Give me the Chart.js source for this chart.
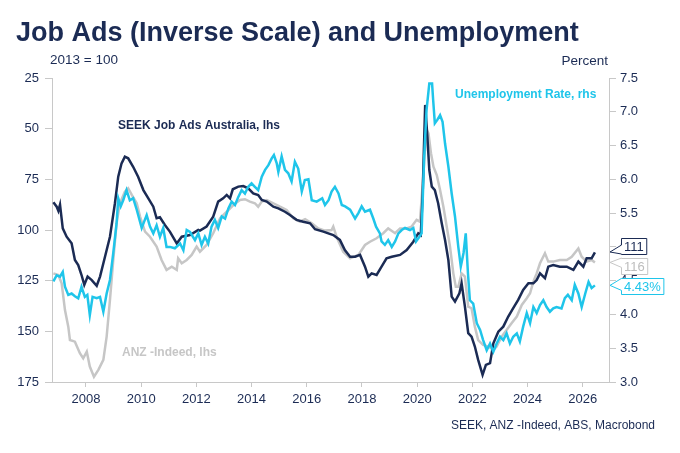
<!DOCTYPE html>
<html>
<head>
<meta charset="utf-8">
<script src="https://cdn.jsdelivr.net/npm/chart.js@4.4.1/dist/chart.umd.min.js"></script>
<style>
  html, body { margin: 0; padding: 0; background: #fff; }
  #wrap { width: 680px; height: 453px; }
</style>
</head>
<body>
<div id="wrap"><canvas id="jobChart" width="680" height="453"></canvas></div>
<script>
// dates are decimal years
var seekDates = [2006.82, 2006.94, 2007.00, 2007.06, 2007.16, 2007.30, 2007.48, 2007.60, 2007.72, 2007.84, 2007.94,
	2008.06, 2008.21, 2008.39, 2008.51, 2008.69, 2008.87, 2009.05, 2009.17, 2009.29, 2009.41, 2009.53, 2009.71, 2009.89,
	2010.08, 2010.26, 2010.44, 2010.56, 2010.68, 2010.86, 2011.04, 2011.29, 2011.47, 2011.77, 2012.07, 2012.13, 2012.37,
	2012.61, 2012.79, 2012.97, 2013.10, 2013.22, 2013.32, 2013.52, 2013.70, 2013.88, 2014.06, 2014.24, 2014.37, 2014.55,
	2014.79, 2014.97, 2015.21, 2015.39, 2015.63, 2015.87, 2016.12, 2016.30, 2016.60, 2016.96, 2017.20, 2017.38, 2017.57,
	2017.75, 2017.93, 2018.11, 2018.23, 2018.35, 2018.53, 2018.71, 2018.89, 2019.08, 2019.38, 2019.62, 2019.86, 2020.04,
	2020.13, 2020.20, 2020.25, 2020.29, 2020.37, 2020.44, 2020.53, 2020.64, 2020.76, 2020.89, 2021.01, 2021.13, 2021.25,
	2021.37, 2021.53, 2021.61, 2021.73, 2021.85, 2021.97, 2022.09, 2022.21, 2022.37, 2022.49, 2022.64, 2022.76, 2022.94,
	2023.12, 2023.30, 2023.48, 2023.66, 2023.84, 2024.03, 2024.21, 2024.33, 2024.45, 2024.63, 2024.75, 2024.93, 2025.17,
	2025.42, 2025.66, 2025.84, 2026.02, 2026.14, 2026.32, 2026.44];
var seekValues = [86.3, 88.5, 90.5, 87.5, 99.2, 103.3, 106.6, 114.8, 117.3, 122.2, 127.1,
	123, 124.7, 127.5, 123, 113.2, 103.3, 86.8, 73.7, 67.1, 63.8, 64.6, 68.8, 73.7,
	80.3, 84.4, 88.5, 94.2, 93.7, 97.5, 100.8, 106.6, 103.3, 102.5, 100, 100.3, 98.3,
	93.4, 86, 84.4, 82.7, 84.4, 79.9, 78.6, 78.3, 79.4, 81.9, 82.7, 85.2, 86,
	88.5, 89.3, 91, 92.6, 95, 95.9, 96.7, 99.6, 100.8, 102.5, 104.9, 109.9, 113.2,
	113.2, 112.3, 118.1, 123, 121.4, 122.2, 118.1, 114, 113.2, 112.3, 109.9, 105.8, 101.6,
	102.5, 81.9, 57.2, 38.3, 54, 70.4, 78.6, 80.3, 86.8, 96.7, 104.9, 114.8, 132.9,
	135.3, 131.2, 126.3, 137.8, 150.9, 152.6, 157.5, 164.1, 171.5, 166.6, 165.7, 155.9, 150.2,
	147.7, 142.7, 138.6, 134.5, 129.6, 126.3, 126.3, 124.7, 121.4, 123.8, 118.1, 117.3, 118.1,
	118.1, 119.7, 115.6, 118.1, 114, 114, 111];

var anzDates = [2006.82, 2007.00, 2007.12, 2007.24, 2007.36, 2007.42, 2007.60, 2007.78, 2007.90, 2008.03, 2008.14,
	2008.29, 2008.45, 2008.63, 2008.75, 2008.87, 2008.99, 2009.11, 2009.23, 2009.41, 2009.53, 2009.66, 2009.84, 2009.96,
	2010.14, 2010.32, 2010.56, 2010.74, 2010.92, 2011.11, 2011.29, 2011.34, 2011.47, 2011.65, 2011.83, 2012.01, 2012.13,
	2012.37, 2012.61, 2012.86, 2013.10, 2013.34, 2013.58, 2013.76, 2013.94, 2014.12, 2014.24, 2014.37, 2014.55, 2014.79,
	2015.03, 2015.27, 2015.51, 2015.75, 2015.94, 2016.18, 2016.42, 2016.66, 2016.90, 2016.96, 2017.08, 2017.32, 2017.57,
	2017.87, 2018.11, 2018.29, 2018.53, 2018.77, 2018.95, 2019.20, 2019.38, 2019.62, 2019.80, 2019.98, 2020.10, 2020.22,
	2020.33, 2020.41, 2020.50, 2020.59, 2020.71, 2020.83, 2020.95, 2021.07, 2021.19, 2021.31, 2021.40, 2021.49, 2021.61,
	2021.73, 2021.85, 2021.97, 2022.09, 2022.21, 2022.39, 2022.58, 2022.76, 2022.88, 2023.06, 2023.24, 2023.42, 2023.61,
	2023.79, 2023.97, 2024.09, 2024.21, 2024.33, 2024.45, 2024.63, 2024.75, 2024.93, 2025.17, 2025.42, 2025.60, 2025.84,
	2025.96, 2026.14, 2026.32, 2026.44];
var anzValues = [121.4, 122.2, 126.3, 139.5, 147.7, 154.3, 155.1, 160.8, 163.3, 160, 167.4,
	172.4, 169, 164.1, 152.6, 134.5, 114.8, 96.7, 86.8, 81.1, 79.4, 82.7, 86.8, 93.4,
	100.8, 103.3, 108.2, 114.8, 119.7, 118.1, 119.7, 114, 116.4, 114.8, 112.3, 108.2, 110.7,
	107.4, 101.6, 94.2, 91, 87.7, 85.2, 84.8, 86, 86.8, 88.5, 86, 85.2, 86.8,
	88.5, 90.1, 94.2, 95.9, 94.7, 96.7, 99.2, 100.3, 100, 98.3, 103.3, 110.7, 114,
	112.3, 107.4, 105.8, 104.1, 101.6, 99.2, 101.6, 99.2, 99.2, 98.3, 95, 95.9, 73.7,
	50, 52.3, 62.1, 68.8, 72.9, 80.3, 88.5, 98.3, 108.2, 121.4, 128, 128, 121.4,
	123, 137.8, 138.6, 147.7, 154.3, 156.7, 157.5, 159.2, 157.5, 152.6, 149.3, 146, 142.7,
	137, 133.7, 131.2, 125.5, 121.4, 116.4, 111.5, 115.6, 115.6, 114.8, 114.8, 113.2, 109.1,
	113.2, 115.6, 114.8, 116];

var unempDates = [2006.82, 2006.94, 2007.06, 2007.16, 2007.24, 2007.36, 2007.48, 2007.60, 2007.72, 2007.84, 2007.96,
	2008.05, 2008.14, 2008.24, 2008.39, 2008.51, 2008.63, 2008.75, 2008.87, 2008.99, 2009.11, 2009.17, 2009.26, 2009.35,
	2009.47, 2009.59, 2009.71, 2009.84, 2010.02, 2010.20, 2010.32, 2010.44, 2010.56, 2010.68, 2010.80, 2010.92, 2011.04,
	2011.22, 2011.41, 2011.53, 2011.65, 2011.77, 2011.95, 2012.07, 2012.19, 2012.31, 2012.43, 2012.55, 2012.67, 2012.79,
	2012.92, 2013.04, 2013.16, 2013.28, 2013.40, 2013.52, 2013.64, 2013.76, 2013.88, 2014.00, 2014.12, 2014.24, 2014.37,
	2014.49, 2014.61, 2014.73, 2014.81, 2014.91, 2014.97, 2015.09, 2015.21, 2015.33, 2015.45, 2015.57, 2015.69, 2015.82,
	2015.93, 2016.06, 2016.18, 2016.36, 2016.56, 2016.66, 2016.79, 2016.90, 2017.02, 2017.15, 2017.27, 2017.39, 2017.57,
	2017.75, 2017.87, 2017.99, 2018.11, 2018.29, 2018.41, 2018.51, 2018.65, 2018.71, 2018.83, 2018.95, 2019.08, 2019.20,
	2019.32, 2019.44, 2019.56, 2019.74, 2019.86, 2019.96, 2020.08, 2020.16, 2020.25, 2020.34, 2020.44, 2020.54, 2020.58,
	2020.64, 2020.73, 2020.83, 2020.92, 2021.01, 2021.13, 2021.25, 2021.37, 2021.49, 2021.58, 2021.68, 2021.76, 2021.84,
	2021.91, 2022.03, 2022.16, 2022.28, 2022.39, 2022.52, 2022.64, 2022.76, 2022.88, 2023.00, 2023.12, 2023.24, 2023.36,
	2023.48, 2023.61, 2023.72, 2023.84, 2023.97, 2024.09, 2024.21, 2024.33, 2024.45, 2024.57, 2024.69, 2024.81, 2024.93,
	2025.05, 2025.23, 2025.35, 2025.46, 2025.60, 2025.71, 2025.84, 2025.96, 2026.09, 2026.21, 2026.32, 2026.44];
var unempValues = [4.49, 4.58, 4.56, 4.63, 4.41, 4.29, 4.31, 4.27, 4.24, 4.41, 4.26,
	4.29, 3.99, 4.26, 4.24, 4.26, 4.04, 4.31, 4.51, 4.91, 5.35, 5.72, 5.6, 5.69,
	5.84, 5.69, 5.72, 5.55, 5.28, 5.47, 5.3, 5.2, 5.32, 5.15, 5.28, 5.0, 5.0,
	4.98, 5.05, 4.95, 5.25, 5.22, 5.1, 5.2, 5.03, 5.15, 5.05, 5.3, 5.4, 5.28,
	5.45, 5.42, 5.57, 5.67, 5.62, 5.74, 5.84, 5.79, 5.89, 5.94, 5.89, 5.84, 6.04,
	6.14, 6.21, 6.31, 6.36, 6.24, 6.11, 6.34, 6.14, 6.09, 5.97, 6.26, 6.16, 5.82,
	5.99, 6.0, 5.69, 5.67, 5.72, 5.62, 5.69, 5.82, 5.89, 5.79, 5.62, 5.6, 5.55,
	5.42, 5.5, 5.6, 5.52, 5.55, 5.42, 5.3, 5.2, 5.08, 5.03, 5.1, 5.0, 5.08,
	5.2, 5.25, 5.28, 5.25, 5.28, 5.08, 5.15, 5.2, 6.29, 7.03, 7.42, 7.42, 7.17,
	6.83, 6.88, 6.95, 6.85, 6.53, 6.19, 5.79, 5.45, 5.0, 4.71, 4.91, 5.2, 4.61,
	4.21, 4.16, 3.87, 3.77, 3.62, 3.47, 3.57, 3.45, 3.57, 3.67, 3.62, 3.72, 3.57,
	3.67, 3.72, 3.6, 3.82, 4.02, 3.87, 4.11, 4.02, 4.14, 4.21, 4.11, 4.04, 4.09,
	4.11, 4.09, 4.24, 4.29, 4.21, 4.44, 4.31, 4.11, 4.31, 4.48, 4.39, 4.43];

var xTicks = [2008, 2010, 2012, 2014, 2016, 2018, 2020, 2022, 2024, 2026];

var navy = '#1b2b54';
var cyan = '#1fc5ea';
var grey = '#c6c6c6';
var font = "'Liberation Sans', Arial, sans-serif";

function pts(dates, vals) {
	return dates.map(function(d, i) { return { x: d, y: vals[i] }; });
}

var textPlugin = {
	id: 'textPlugin',
	afterDraw: function(chart) {
		var c = chart.ctx;
		var area = chart.chartArea;
		c.save();
		c.textBaseline = 'alphabetic';
		c.textAlign = 'left';
		c.fillStyle = navy;
		c.font = 'bold 27px ' + font;
		c.fillText('Job Ads (Inverse Scale) and Unemployment', 16, 41);
		c.font = '13.5px ' + font;
		c.fillText('2013 = 100', 50, 64);
		c.textAlign = 'right';
		c.fillText('Percent', 608, 65);
		c.font = '12px ' + font;
		c.fillText('SEEK, ANZ -Indeed, ABS, Macrobond', 655, 429);

		c.textAlign = 'left';
		c.font = 'bold 12px ' + font;
		c.fillStyle = navy;
		c.fillText('SEEK Job Ads Australia, lhs', 118, 129);
		c.fillStyle = cyan;
		c.fillText('Unemployment Rate, rhs', 455, 98);
		c.fillStyle = grey;
		c.fillText('ANZ -Indeed, lhs', 122, 356);

		// end-value callouts, pushed apart when they overlap
		var items = chart.data.datasets.map(function(ds) {
			var last = ds.data[ds.data.length - 1];
			var y = chart.scales[ds.yAxisID].getPixelForValue(last.y);
			return { y: y, ly: y, text: ds.endFormat(last.y), color: ds.borderColor, textColor: ds.endColor };
		});
		items.sort(function(a, b) { return a.y - b.y; });
		for (var k = 0; k < 5; k++) {
			for (var i = 1; i < items.length; i++) {
				var gap = items[i].ly - items[i - 1].ly;
				if (gap < 20) {
					var sh = 20 - gap;
					items[i - 1].ly -= sh * 0.66;
					items[i].ly += sh * 0.34;
				}
			}
		}
		c.font = '13px ' + font;
		c.lineWidth = 1;
		items.forEach(function(it) {
			var bx = area.right + 12, tipX = area.right + 1;
			var w = c.measureText(it.text).width + 6;
			var top = Math.round(it.ly - 8), bot = top + 16;
			var tipY = Math.max(top + 2, Math.min(bot - 2, it.y));
			var n1 = Math.max(top, tipY - 7), n2 = Math.min(bot, tipY + 5);
			c.beginPath();
			c.moveTo(bx + 0.5, top + 0.5);
			c.lineTo(bx + w, top + 0.5);
			c.lineTo(bx + w, bot + 0.5);
			c.lineTo(bx + 0.5, bot + 0.5);
			c.lineTo(bx + 0.5, n2);
			c.lineTo(tipX, tipY);
			c.lineTo(bx + 0.5, n1);
			c.closePath();
			c.fillStyle = '#fff';
			c.fill();
			c.strokeStyle = it.color;
			c.stroke();
			c.fillStyle = it.textColor;
			c.textBaseline = 'middle';
			c.fillText(it.text, bx + 3, top + 9);
		});
		c.restore();
	}
};

var ctx = document.getElementById('jobChart').getContext('2d');
var jobChart = new Chart(ctx, {
	type: 'line',
	data: {
		datasets: [{
			label: 'Unemployment Rate, rhs',
			data: pts(unempDates, unempValues),
			yAxisID: 'y2',
			borderColor: cyan,
			endColor: cyan,
			endFormat: function(v) { return v.toFixed(2) + '%'; }
		}, {
			label: 'SEEK Job Ads Australia, lhs',
			data: pts(seekDates, seekValues),
			yAxisID: 'y',
			borderColor: navy,
			endColor: navy,
			endFormat: function(v) { return String(Math.round(v)); }
		}, {
			label: 'ANZ -Indeed, lhs',
			data: pts(anzDates, anzValues),
			yAxisID: 'y',
			borderColor: grey,
			endColor: '#bdbdbd',
			endFormat: function(v) { return String(Math.round(v)); }
		}]
	},
	options: {
		responsive: false,
		animation: false,
		layout: { padding: { top: 78, left: 0, right: 0, bottom: 0 } },
		elements: {
			point: { radius: 0 },
			line: { borderWidth: 2.5, tension: 0 }
		},
		plugins: {
			legend: { display: false },
			tooltip: { enabled: false }
		},
		scales: {
			x: {
				type: 'linear',
				min: 2006.77,
				max: 2026.95,
				afterBuildTicks: function(s) { s.ticks = xTicks.map(function(v) { return { value: v }; }); },
				afterFit: function(s) { s.height = 71; },
				grid: { display: true, drawOnChartArea: false, tickLength: 5, color: '#c8c8c8' },
				border: { display: true, color: '#c8c8c8' },
				ticks: {
					padding: 5,
					maxRotation: 0,
					autoSkip: false,
					color: navy,
					font: { family: font, size: 13 },
					callback: function(v) { return String(v); }
				}
			},
			y: {
				position: 'left',
				reverse: true,
				min: 25,
				max: 175,
				afterFit: function(s) { s.width = 52; },
				grid: { display: true, drawOnChartArea: false, tickLength: 7, color: '#c8c8c8' },
				border: { display: true, color: '#c8c8c8' },
				ticks: { stepSize: 25, padding: 6, color: navy, font: { family: font, size: 13 } }
			},
			y2: {
				position: 'right',
				min: 3,
				max: 7.5,
				afterFit: function(s) { s.width = 71; },
				grid: { display: true, drawOnChartArea: false, tickLength: 7, color: '#c8c8c8' },
				border: { display: true, color: '#c8c8c8' },
				ticks: {
					stepSize: 0.5, padding: 4, color: navy, font: { family: font, size: 13 },
					callback: function(v) { return v.toFixed(1); }
				}
			}
		}
	},
	plugins: [textPlugin]
});
</script>
</body>
</html>
